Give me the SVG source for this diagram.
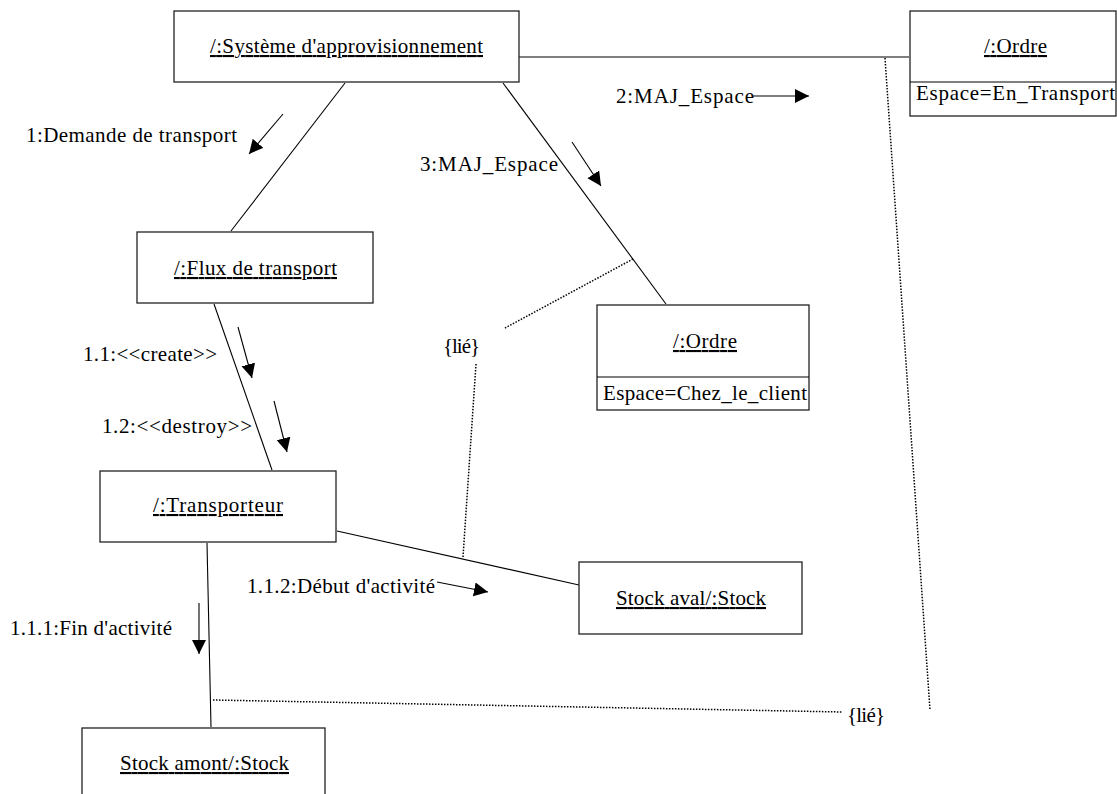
<svg xmlns="http://www.w3.org/2000/svg" width="1117" height="794" viewBox="0 0 1117 794">
<defs>
<marker id="ah" markerUnits="userSpaceOnUse" markerWidth="15" markerHeight="15" refX="14" refY="7" orient="auto">
<path d="M0,0 L14,7 L0,14 z" fill="#000"/>
</marker>
<style>
.box{fill:#fff;stroke:#222;stroke-width:1.3}
.t{font-family:'Liberation Serif','Tinos','Times New Roman','Nimbus Roman','DejaVu Serif','Noto Serif',serif;font-size:21px;fill:#000}
.u{text-decoration:underline}
.ln{stroke:#000;stroke-width:1.1;fill:none}
.dot{stroke:#000;stroke-width:1.5;stroke-dasharray:1.5 1.5;fill:none}
.msg{stroke:#000;stroke-width:1.1;fill:none;marker-end:url(#ah)}
</style>
</defs>
<rect width="1117" height="794" fill="#fff"/>
<g id="connectors">
<line class="ln" x1="519" y1="57" x2="909" y2="57"/>
<line class="ln" x1="345" y1="83" x2="231" y2="231"/>
<line class="ln" x1="503" y1="83" x2="666" y2="304"/>
<line class="ln" x1="214" y1="304" x2="272" y2="470"/>
<line class="ln" x1="337" y1="531" x2="579" y2="585"/>
<line class="ln" x1="207" y1="543" x2="211" y2="727"/>
<line class="dot" x1="633" y1="259" x2="505" y2="328"/>
<line class="dot" x1="476" y1="364" x2="463" y2="557"/>
<line class="dot" x1="885" y1="58" x2="930" y2="710"/>
<line class="dot" x1="213" y1="700" x2="842" y2="712"/>
<line class="msg" x1="283" y1="114" x2="249" y2="154"/>
<line class="msg" x1="753" y1="96" x2="809" y2="96"/>
<line class="msg" x1="572" y1="142" x2="601" y2="186"/>
<line class="msg" x1="238" y1="327" x2="252" y2="378"/>
<line class="msg" x1="274" y1="401" x2="287" y2="452"/>
<line class="msg" x1="437" y1="582" x2="488" y2="592"/>
<line class="msg" x1="199" y1="603" x2="199" y2="654"/>
<text class="t" font-family="Liberation Serif, serif" x="26" y="142" textLength="211" lengthAdjust="spacing">1:Demande de transport</text>
<text class="t" x="616" y="103" textLength="138" lengthAdjust="spacing">2:MAJ_Espace</text>
<text class="t" x="420" y="171" textLength="138" lengthAdjust="spacing">3:MAJ_Espace</text>
<text class="t" x="83" y="361" textLength="134" lengthAdjust="spacing">1.1:&lt;&lt;create&gt;&gt;</text>
<text class="t" x="102" y="433" textLength="150" lengthAdjust="spacing">1.2:&lt;&lt;destroy&gt;&gt;</text>
<text class="t" x="443" y="353" textLength="37" lengthAdjust="spacing">{lié}</text>
<text class="t" x="247" y="593" textLength="188" lengthAdjust="spacing">1.1.2:Début d'activité</text>
<text class="t" x="10" y="635" textLength="162" lengthAdjust="spacing">1.1.1:Fin d'activité</text>
<text class="t" x="847" y="722" textLength="38" lengthAdjust="spacing">{lié}</text>
</g>
<g id="systeme">
<rect class="box" x="174" y="11" width="345" height="71"/>
<text class="t u" x="210" y="53" textLength="273" lengthAdjust="spacing">/:Système d'approvisionnement</text>
</g>
<g id="ordre1">
<rect class="box" x="910" y="11" width="206" height="105"/>
<line class="ln" x1="910" y1="82" x2="1116" y2="82"/>
<text class="t u" x="984" y="53" textLength="63" lengthAdjust="spacing">/:Ordre</text>
<text class="t" x="916" y="100" textLength="199" lengthAdjust="spacing">Espace=En_Transport</text>
</g>
<g id="flux">
<rect class="box" x="137" y="232" width="236" height="71"/>
<text class="t u" x="174" y="275" textLength="163" lengthAdjust="spacing">/:Flux de transport</text>
</g>
<g id="ordre2">
<rect class="box" x="597" y="305" width="212" height="105"/>
<line class="ln" x1="597" y1="377" x2="809" y2="377"/>
<text class="t u" x="673" y="348" textLength="64" lengthAdjust="spacing">/:Ordre</text>
<text class="t" x="603" y="400" textLength="204" lengthAdjust="spacing">Espace=Chez_le_client</text>
</g>
<g id="transporteur">
<rect class="box" x="100" y="471" width="236" height="71"/>
<text class="t u" x="153" y="512" textLength="130" lengthAdjust="spacing">/:Transporteur</text>
</g>
<g id="stockaval">
<rect class="box" x="579" y="562" width="223" height="72"/>
<text class="t u" x="616" y="605" textLength="150" lengthAdjust="spacing">Stock aval/:Stock</text>
</g>
<g id="stockamont">
<rect class="box" x="82" y="728" width="243" height="80"/>
<text class="t u" x="120" y="770" textLength="169" lengthAdjust="spacing">Stock amont/:Stock</text>
</g>
</svg>
